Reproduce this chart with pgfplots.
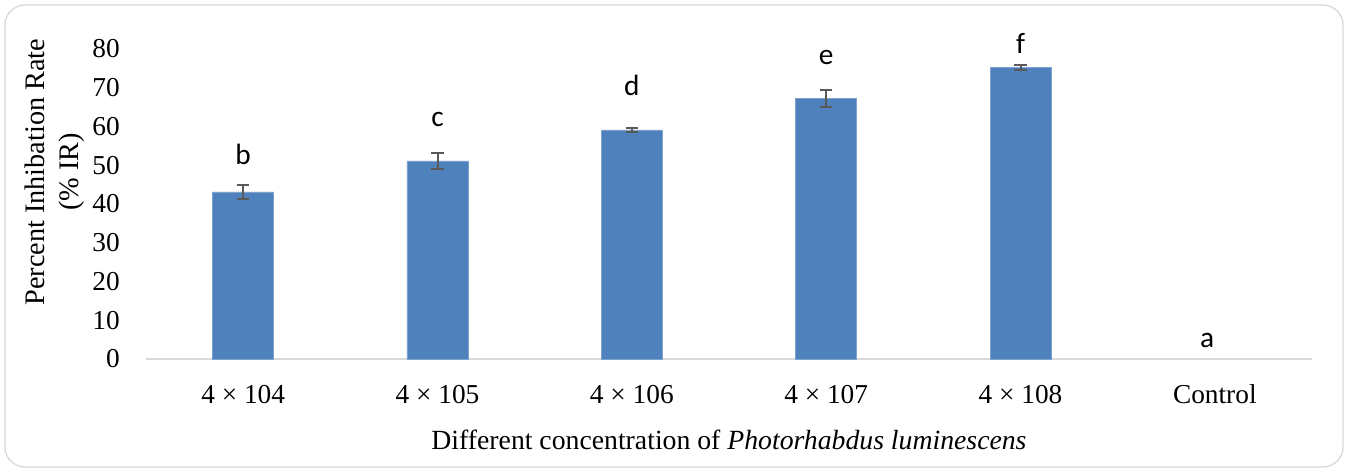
\documentclass[border=0pt]{standalone}
\usepackage{pgfplots}
\pgfplotsset{compat=1.18}
\usepackage{pgfplotstable}
\usepackage{fontspec}
\setmainfont{Liberation Serif}
\newfontfamily\carlito{Carlito}
\definecolor{barblue}{HTML}{4F81BD}
\definecolor{baredge}{HTML}{7DA2D0}
\definecolor{errgray}{HTML}{595959}
\definecolor{axisgray}{HTML}{D9D9D9}

\pgfplotstableread{
x y e
0 43.1 1.8
1 51.1 2.1
2 59.1 0.6
3 67.2 2.2
4 75.2 0.7
}\bardata

\pgfplotstableread{
x y lab
0 50.1 b
1 60.0 c
2 67.9 d
3 76.0 e
4 78.9 f
4.96 2.9 a
}\letters

\begin{document}
\begin{tikzpicture}
\useasboundingbox (-109.5pt,-84.75pt) rectangle (901.5pt,269.25pt);
\draw[axisgray, line width=1pt, rounded corners=15pt] (-105.75pt,-81pt) rectangle (897.75pt,265.5pt);
\begin{axis}[
  at={(0pt,0pt)}, anchor=south west,
  scale only axis, width=874.5pt, height=232.5pt,
  xmin=-0.5, xmax=5.5, ymin=0, ymax=80,
  ytick={0,10,...,80},
  xtick={0,1,2,3,4,5},
  xticklabels={4 × 104, 4 × 105, 4 × 106, 4 × 107, 4 × 108, Control},
  axis lines*=left,
  y axis line style={draw=none},
  x axis line style={draw=axisgray, line width=1.1pt, -},
  major tick length=0pt,
  tick label style={font=\fontsize{20.5}{24}\selectfont},
  /pgf/number format/assume math mode=true,
  yticklabel style={anchor=east, inner sep=0pt, xshift=-19.5pt},
  xticklabel style={anchor=base, inner sep=0pt, yshift=-33pt},
  xlabel={Different concentration of \textit{Photorhabdus luminescens}},
  xlabel style={at={(axis description cs:0.5,0)}, anchor=base, yshift=-67.5pt, inner sep=0pt, font=\fontsize{20.8}{24}\selectfont},
  ylabel={Percent Inhibation Rate\\(\% IR)},
  ylabel style={at={(axis description cs:-0.0784,0.603)}, anchor=center, rotate=0, align=center, font=\fontsize{21.2}{26}\selectfont},
  clip=false,
]
\addplot[ybar, bar width=45.75pt, fill=barblue, draw=baredge, line width=0.6pt,
  error bars/.cd, y dir=both, y explicit,
  error bar style={line width=1.5pt, color=errgray},
  error mark options={rotate=90, mark size=4.6pt, line width=1.5pt, color=errgray}]
  table[x=x, y=y, y error=e] {\bardata};
\addplot[draw=none, mark=none, nodes near coords, point meta=explicit symbolic,
  nodes near coords align={anchor=base},
  every node near coord/.append style={font=\carlito\fontsize{22}{26}\selectfont, text=black, anchor=base}]
  table[x=x, y=y, meta=lab] {\letters};
\end{axis}
\end{tikzpicture}
\end{document}
